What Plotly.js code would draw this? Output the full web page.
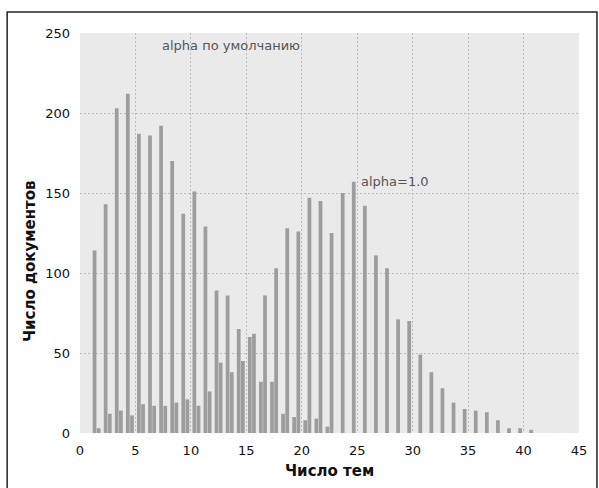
<!DOCTYPE html>
<html>
<head>
<meta charset="utf-8">
<script src="https://cdn.plot.ly/plotly-3.0.1.min.js"></script>
<style>html,body{margin:0;padding:0;background:#fff;}</style>
</head>
<body>
<div id="chart" style="width:599px;height:488px;"></div>
<script>
// Histogram bins: number of topics per document (bin start)
const topics = [0,1,2,3,4,5,6,7,8,9,10,11,12,13,14,15,16,17,18,19,20,21,22,23,24,25,26,27,28,29,30,31,32,33,34,35,36,37,38,39,40];
// Number of documents, default alpha
const docsDefault = [0,114,143,203,212,187,186,192,170,137,151,129,89,86,65,60,32,32,12,10,8,9,4,0,0,0,0,0,0,0,0,0,0,0,0,0,0,0,0,0,0];
// Number of documents, alpha = 1.0
const docsAlpha1 = [0,3,12,14,11,18,17,17,19,21,17,26,44,38,45,62,86,103,128,126,147,145,125,150,157,142,111,103,71,70,49,38,28,19,15,14,13,8,3,3,2];
const xTicks = [0,5,10,15,20,25,30,35,40,45];
const yTicks = [0,50,100,150,200,250];
const labelDefault = 'alpha по умолчанию';
const labelAlpha1 = 'alpha=1.0';
const xTitle = 'Число тем';
const yTitle = 'Число документов';

const binCenters = topics.map(t => t + 0.5);
const barColor = '#9d9d9d';

const traces = [
  {type:'bar', x: binCenters, y: docsDefault, name: labelDefault,
   marker:{color: barColor, line:{width:0}}, hoverinfo:'x+y'},
  {type:'bar', x: binCenters, y: docsAlpha1, name: labelAlpha1,
   marker:{color: barColor, line:{width:0}}, hoverinfo:'x+y'}
];

const tickFont = {family:'DejaVu Sans, sans-serif', size:13, color:'#111'};
const titleFont = {family:'DejaVu Sans, sans-serif', size:15, color:'#111', weight:'bold'};
const layout = {
  width:599, height:488,
  margin:{l:80, r:20, t:33, b:55},
  paper_bgcolor:'#ffffff',
  plot_bgcolor:'#eaeaea',
  showlegend:false,
  barmode:'group', bargap:0.25, bargroupgap:0.1,
  font:{family:'DejaVu Sans, sans-serif'},
  xaxis:{
    range:[0,45], tickvals:xTicks, ticktext:xTicks.map(String),
    showgrid:true, gridcolor:'#bcbcbc', griddash:'2px,2px', gridwidth:1,
    zeroline:false, showline:false, ticks:'', tickfont:tickFont, ticklabelstandoff:8
  },
  yaxis:{
    range:[0,250], tickvals:yTicks, ticktext:yTicks.map(String),
    showgrid:true, gridcolor:'#bcbcbc', griddash:'2px,2px', gridwidth:1,
    zeroline:false, showline:false, ticks:'', tickfont:tickFont, ticklabelstandoff:9
  },
  annotations:[
    {x:13.6, y:242, xref:'x', yref:'y', text:labelDefault, showarrow:false,
     font:{family:'DejaVu Sans, sans-serif', size:13, color:'#555'}},
    {x:28.4, y:157, xref:'x', yref:'y', text:labelAlpha1, showarrow:false,
     font:{family:'DejaVu Sans, sans-serif', size:13, color:'#555'}},
    {x:0.5, y:-0.095, xref:'paper', yref:'paper', xanchor:'center', yanchor:'middle',
     text:xTitle, showarrow:false, font:titleFont},
    {x:-0.1, y:0.43, xref:'paper', yref:'paper', xanchor:'center', yanchor:'middle',
     text:yTitle, showarrow:false, textangle:-90, font:titleFont}
  ],
  shapes:[
    {type:'rect', xref:'paper', yref:'paper', x0:-0.146, x1:1.036, y0:-0.15, y1:1.0525,
     line:{color:'#222', width:1.5}, fillcolor:'rgba(0,0,0,0)', layer:'above'}
  ]
};

Plotly.newPlot('chart', traces, layout, {displayModeBar:false, staticPlot:true});
</script>
</body>
</html>
